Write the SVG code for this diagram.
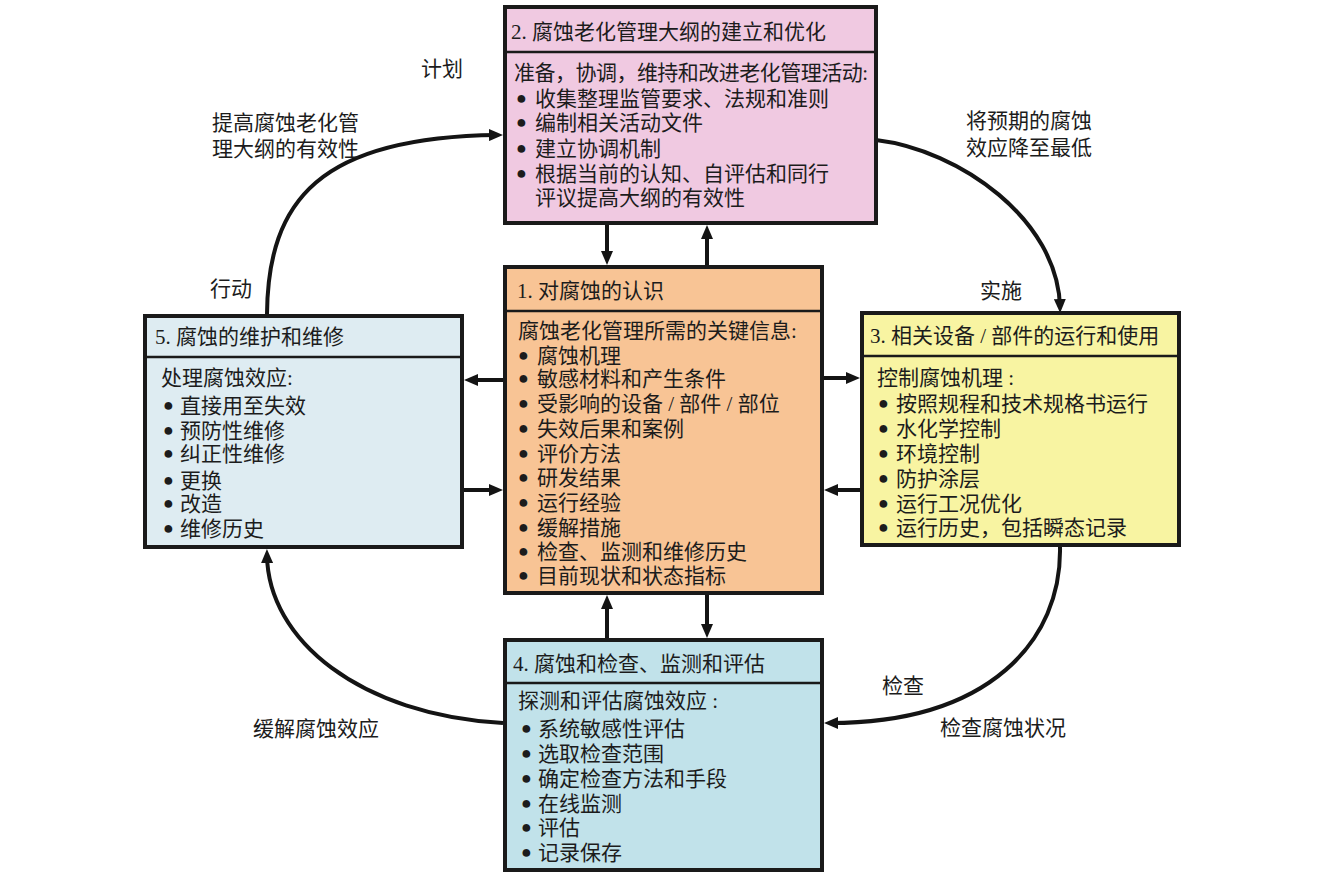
<svg xmlns="http://www.w3.org/2000/svg" width="1321" height="878" viewBox="0 0 1321 878">
<defs>
<style>
text{font-family:"Liberation Serif","Noto Sans CJK SC",serif;font-size:21px;fill:#1c1c1c;}
.b{font-family:"Liberation Sans",sans-serif;font-size:18px;}
.box{stroke:#1a1a1a;stroke-width:4;}
.div{stroke:#1a1a1a;stroke-width:2.5;}
.con{fill:none;stroke:#141414;stroke-width:4;}
</style>
<marker id="ah" viewBox="0 0 14 12" refX="8" refY="6" markerWidth="14" markerHeight="12" markerUnits="userSpaceOnUse" orient="auto">
<path d="M0,0 L14,6 L0,12 z" fill="#141414"/>
</marker>
</defs>
<rect width="1321" height="878" fill="#ffffff"/>

<g id="connectors">
<path class="con" marker-end="url(#ah)" d="M267,314 C268,200 320,137 497,135"/>
<path class="con" marker-end="url(#ah)" d="M876,140 C960,150 1058,220 1060,307"/>
<path class="con" marker-end="url(#ah)" d="M1060,547 C1062,640 990,723 830,723"/>
<path class="con" marker-end="url(#ah)" d="M503,723 C360,715 268,640 267,555"/>
<path class="con" marker-end="url(#ah)" d="M607,225 L607,259"/>
<path class="con" marker-end="url(#ah)" d="M707,265 L707,231"/>
<path class="con" marker-end="url(#ah)" d="M503,380 L470,380"/>
<path class="con" marker-end="url(#ah)" d="M464,490 L497,490"/>
<path class="con" marker-end="url(#ah)" d="M824,378 L854,378"/>
<path class="con" marker-end="url(#ah)" d="M860,490 L830,490"/>
<path class="con" marker-end="url(#ah)" d="M607,638 L607,601"/>
<path class="con" marker-end="url(#ah)" d="M707,595 L707,632"/>
</g>

<g id="labels">
<text x="442" y="76" text-anchor="middle">计划</text>
<text x="212" y="130">提高腐蚀老化管</text>
<text x="212" y="156">理大纲的有效性</text>
<text x="210" y="296">行动</text>
<text x="966" y="128">将预期的腐蚀</text>
<text x="966" y="155">效应降至最低</text>
<text x="980" y="298">实施</text>
<text x="903" y="693" text-anchor="middle">检查</text>
<text x="940" y="735">检查腐蚀状况</text>
<text x="253" y="736">缓解腐蚀效应</text>
</g>

<g id="node2">
<rect class="box" x="505" y="7" width="371" height="216" fill="#F0C9E1"/>
<line class="div" x1="505" y1="52" x2="876" y2="52"/>
<text x="511" y="39">2. 腐蚀老化管理大纲的建立和优化</text>
<text x="514" y="80" textLength="354" lengthAdjust="spacing">准备，协调，维持和改进老化管理活动:</text>
<text y="106"><tspan class="b" x="516" dy="-2">●</tspan><tspan x="535" dy="2">收集整理监管要求、法规和准则</tspan></text>
<text y="130"><tspan class="b" x="516" dy="-2">●</tspan><tspan x="535" dy="2">编制相关活动文件</tspan></text>
<text y="156"><tspan class="b" x="516" dy="-2">●</tspan><tspan x="535" dy="2">建立协调机制</tspan></text>
<text y="181"><tspan class="b" x="516" dy="-2">●</tspan><tspan x="535" dy="2">根据当前的认知、自评估和同行</tspan></text>
<text x="535" y="205">评议提高大纲的有效性</text>
</g>

<g id="node1">
<rect class="box" x="505" y="267" width="317" height="326" fill="#F8C495"/>
<line class="div" x1="505" y1="311" x2="822" y2="311"/>
<text x="517" y="298">1. 对腐蚀的认识</text>
<text x="518" y="338">腐蚀老化管理所需的关键信息:</text>
<text y="363"><tspan class="b" x="518" dy="-2">●</tspan><tspan x="537" dy="2">腐蚀机理</tspan></text>
<text y="386"><tspan class="b" x="518" dy="-2">●</tspan><tspan x="537" dy="2">敏感材料和产生条件</tspan></text>
<text y="411"><tspan class="b" x="518" dy="-2">●</tspan><tspan x="537" dy="2">受影响的设备 / 部件 / 部位</tspan></text>
<text y="436"><tspan class="b" x="518" dy="-2">●</tspan><tspan x="537" dy="2">失效后果和案例</tspan></text>
<text y="461"><tspan class="b" x="518" dy="-2">●</tspan><tspan x="537" dy="2">评价方法</tspan></text>
<text y="485"><tspan class="b" x="518" dy="-2">●</tspan><tspan x="537" dy="2">研发结果</tspan></text>
<text y="510"><tspan class="b" x="518" dy="-2">●</tspan><tspan x="537" dy="2">运行经验</tspan></text>
<text y="535"><tspan class="b" x="518" dy="-2">●</tspan><tspan x="537" dy="2">缓解措施</tspan></text>
<text y="559"><tspan class="b" x="518" dy="-2">●</tspan><tspan x="537" dy="2">检查、监测和维修历史</tspan></text>
<text y="583"><tspan class="b" x="518" dy="-2">●</tspan><tspan x="537" dy="2">目前现状和状态指标</tspan></text>
</g>

<g id="node5">
<rect class="box" x="145" y="316" width="317" height="231" fill="#DEECF2"/>
<line class="div" x1="145" y1="357" x2="462" y2="357"/>
<text x="155" y="344">5. 腐蚀的维护和维修</text>
<text x="161" y="385">处理腐蚀效应:</text>
<text y="413"><tspan class="b" x="163" dy="-2">●</tspan><tspan x="180" dy="2">直接用至失效</tspan></text>
<text y="438"><tspan class="b" x="163" dy="-2">●</tspan><tspan x="180" dy="2">预防性维修</tspan></text>
<text y="461"><tspan class="b" x="163" dy="-2">●</tspan><tspan x="180" dy="2">纠正性维修</tspan></text>
<text y="488"><tspan class="b" x="163" dy="-2">●</tspan><tspan x="180" dy="2">更换</tspan></text>
<text y="511"><tspan class="b" x="163" dy="-2">●</tspan><tspan x="180" dy="2">改造</tspan></text>
<text y="536"><tspan class="b" x="163" dy="-2">●</tspan><tspan x="180" dy="2">维修历史</tspan></text>
</g>

<g id="node3">
<rect class="box" x="862" y="313" width="317" height="232" fill="#F8F4A2"/>
<line class="div" x1="862" y1="356" x2="1179" y2="356"/>
<text x="870" y="343">3. 相关设备 / 部件的运行和使用</text>
<text x="877" y="385">控制腐蚀机理 :</text>
<text y="411"><tspan class="b" x="878" dy="-2">●</tspan><tspan x="896" dy="2">按照规程和技术规格书运行</tspan></text>
<text y="436"><tspan class="b" x="878" dy="-2">●</tspan><tspan x="896" dy="2">水化学控制</tspan></text>
<text y="461"><tspan class="b" x="878" dy="-2">●</tspan><tspan x="896" dy="2">环境控制</tspan></text>
<text y="486"><tspan class="b" x="878" dy="-2">●</tspan><tspan x="896" dy="2">防护涂层</tspan></text>
<text y="511"><tspan class="b" x="878" dy="-2">●</tspan><tspan x="896" dy="2">运行工况优化</tspan></text>
<text y="535"><tspan class="b" x="878" dy="-2">●</tspan><tspan x="896" dy="2">运行历史，包括瞬态记录</tspan></text>
</g>

<g id="node4">
<rect class="box" x="505" y="640" width="317" height="230" fill="#C1E2EA"/>
<line class="div" x1="505" y1="683" x2="822" y2="683"/>
<text x="513" y="671">4. 腐蚀和检查、监测和评估</text>
<text x="518" y="708">探测和评估腐蚀效应 :</text>
<text y="736"><tspan class="b" x="521" dy="-2">●</tspan><tspan x="538" dy="2">系统敏感性评估</tspan></text>
<text y="761"><tspan class="b" x="521" dy="-2">●</tspan><tspan x="538" dy="2">选取检查范围</tspan></text>
<text y="786"><tspan class="b" x="521" dy="-2">●</tspan><tspan x="538" dy="2">确定检查方法和手段</tspan></text>
<text y="811"><tspan class="b" x="521" dy="-2">●</tspan><tspan x="538" dy="2">在线监测</tspan></text>
<text y="835"><tspan class="b" x="521" dy="-2">●</tspan><tspan x="538" dy="2">评估</tspan></text>
<text y="860"><tspan class="b" x="521" dy="-2">●</tspan><tspan x="538" dy="2">记录保存</tspan></text>
</g>
</svg>
